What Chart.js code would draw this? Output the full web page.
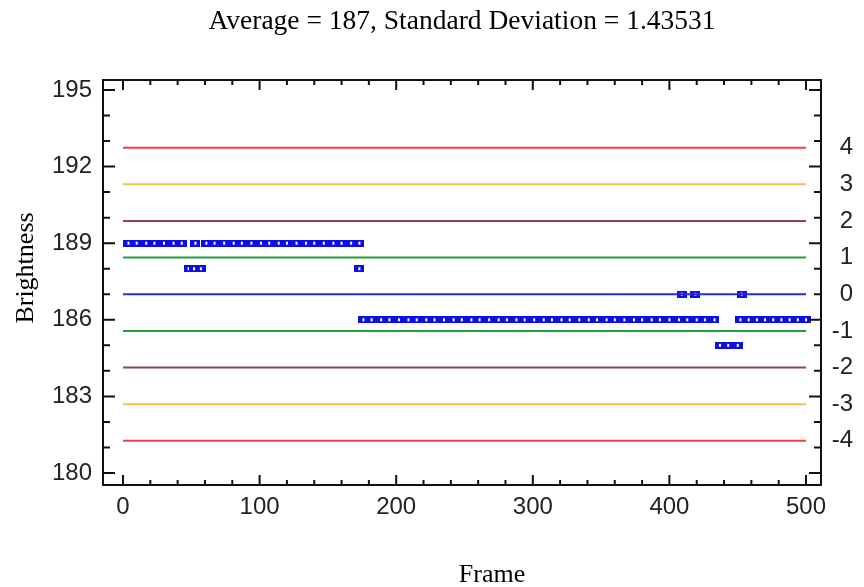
<!DOCTYPE html>
<html><head><meta charset="utf-8">
<script src="https://cdn.jsdelivr.net/npm/chart.js@4.4.1/dist/chart.umd.min.js"></script>
<style>html,body{margin:0;padding:0;background:#fff}canvas{display:block}</style>
</head><body>
<canvas id="c" width="864" height="587"></canvas>
<script>
// ---------- data ----------
const titleText = 'Average = 187, Standard Deviation = 1.43531';
const xTitle = 'Frame';
const yTitle = 'Brightness';
const mean = 187;
const stdDev = 1.43531;
const sigmaLevels = [4, 3, 2, 1, 0, -1, -2, -3, -4];
const xTickLabels = [0, 100, 200, 300, 400, 500];
const yTickLabels = [180, 183, 186, 189, 192, 195];
const frames189 = [4, 10, 17, 23, 30, 37, 43, 53, 61, 67, 74, 81, 87, 94, 101, 107, 114, 120, 127, 134, 140, 147, 154, 160, 167, 173];
const frames188 = [48, 52, 57, 173];
const frames187 = [409, 419, 453];
const frames186 = [176, 182, 189, 195, 202, 209, 215, 222, 228, 235, 242, 248, 255, 261, 268, 275, 281, 288, 294, 301, 308, 314, 321, 327, 334, 341, 347, 354, 360, 367, 374, 380, 387, 393, 400, 407, 413, 420, 426, 433, 452, 458, 464, 470, 476, 482, 488, 494, 500];
const frames185 = [437, 443, 450];
const lineStart = 0, lineEnd = 500;

// ---------- style ----------
const lineColors = ['#f2403f', '#eec24a', '#9a3a6a', '#20a23a', '#2a2ad8', '#20a23a', '#9a3a6a', '#eec24a', '#f2403f'];
const markerBlue = 'rgb(14,14,232)';
const tickFont = { family: '"Liberation Sans", Arial, sans-serif', size: 24 };
const serif = '"Liberation Serif", "Times New Roman", serif';
const xMin = -14.64, xMax = 510.98;
const yMin = 179.53, yMax = 195.39;

// marker: small blue rectangle with a white centre
const marker = document.createElement('canvas');
marker.width = 10; marker.height = 7;
(function () {
  const m = marker.getContext('2d');
  m.fillStyle = markerBlue; m.fillRect(0, 0, 10, 7);
  m.fillStyle = '#ffffff'; m.fillRect(4, 2, 2, 3);
})();

const points = [];
[[frames189, 189], [frames188, 188], [frames187, 187], [frames186, 186], [frames185, 185]].forEach(([fs, v]) => {
  fs.forEach(f => points.push({ x: f, y: v }));
});

const datasets = sigmaLevels.map((k, i) => ({
  type: 'scatter',
  showLine: true,
  data: [{ x: lineStart, y: mean + k * stdDev }, { x: lineEnd, y: mean + k * stdDev }],
  borderColor: lineColors[i],
  borderWidth: 2,
  pointRadius: 0,
  order: 0
}));
datasets.push({
  type: 'scatter',
  data: points,
  pointStyle: marker,
  pointRadius: 3,
  order: 1
});

const framePlugin = {
  id: 'frameTicks',
  afterDatasetsDraw(chart) {
    const { ctx, chartArea: a, scales } = chart;
    const x = scales.x, y = scales.y;
    ctx.save();
    ctx.strokeStyle = '#111';
    ctx.lineWidth = 2;
    ctx.beginPath();
    for (let v = 0; v <= 500; v += 20) {
      const px = x.getPixelForValue(v);
      const len = v % 100 === 0 ? 10 : 5;
      ctx.moveTo(px, a.bottom); ctx.lineTo(px, a.bottom - len);
      ctx.moveTo(px, a.top); ctx.lineTo(px, a.top + len);
    }
    for (let v = 180; v <= 195; v += 1) {
      const py = y.getPixelForValue(v);
      const len = v % 3 === 0 ? 12 : 7;
      ctx.moveTo(a.left, py); ctx.lineTo(a.left + len, py);
      ctx.moveTo(a.right, py); ctx.lineTo(a.right - len, py);
    }
    ctx.stroke();
    ctx.strokeRect(a.left, a.top, a.right - a.left, a.bottom - a.top);
    ctx.restore();
  },
  afterDraw(chart) {
    const { ctx } = chart;
    ctx.save();
    ctx.fillStyle = '#000';
    ctx.font = '26px ' + serif;
    ctx.textAlign = 'center';
    ctx.textBaseline = 'middle';
    ctx.fillText(xTitle, 492, 575);
    ctx.translate(26, 268);
    ctx.rotate(-Math.PI / 2);
    ctx.fillText(yTitle, 0, 0);
    ctx.restore();
  }
};

new Chart(document.getElementById('c'), {
  type: 'scatter',
  data: { datasets },
  plugins: [framePlugin],
  options: {
    responsive: false,
    animation: false,
    devicePixelRatio: 1,
    events: [],
    layout: { padding: { left: 0, right: 11, top: 0, bottom: 0 } },
    plugins: {
      legend: { display: false },
      tooltip: { enabled: false },
      title: {
        display: true,
        text: titleText,
        fullSize: false,
        color: '#000',
        font: { family: serif, size: 27.5, weight: 'normal', lineHeight: 1.2 },
        padding: { top: 5.5, bottom: 41.5 }
      }
    },
    scales: {
      x: {
        type: 'linear', min: xMin, max: xMax,
        grid: { display: false, drawTicks: false },
        border: { display: false },
        afterBuildTicks: s => { s.ticks = xTickLabels.map(v => ({ value: v })); },
        afterFit: s => { s.height = 102; },
        ticks: { font: tickFont, color: '#222', padding: 8, maxRotation: 0, autoSkip: false }
      },
      y: {
        type: 'linear', position: 'left', min: yMin, max: yMax,
        grid: { display: false, drawTicks: false },
        border: { display: false },
        afterBuildTicks: s => { s.ticks = yTickLabels.map(v => ({ value: v })); },
        afterFit: s => { s.width = 103; },
        ticks: { font: tickFont, color: '#222', padding: 11, autoSkip: false }
      },
      y2: {
        type: 'linear', position: 'right',
        min: (yMin - mean) / stdDev, max: (yMax - mean) / stdDev,
        grid: { display: false, drawTicks: false },
        border: { display: false },
        afterBuildTicks: s => { s.ticks = sigmaLevels.map(v => ({ value: v })); },
        afterFit: s => { s.width = 32; },
        ticks: { font: tickFont, color: '#222', padding: 10, crossAlign: 'far', autoSkip: false, callback: v => String(v) }
      }
    }
  }
});
</script>
</body></html>
